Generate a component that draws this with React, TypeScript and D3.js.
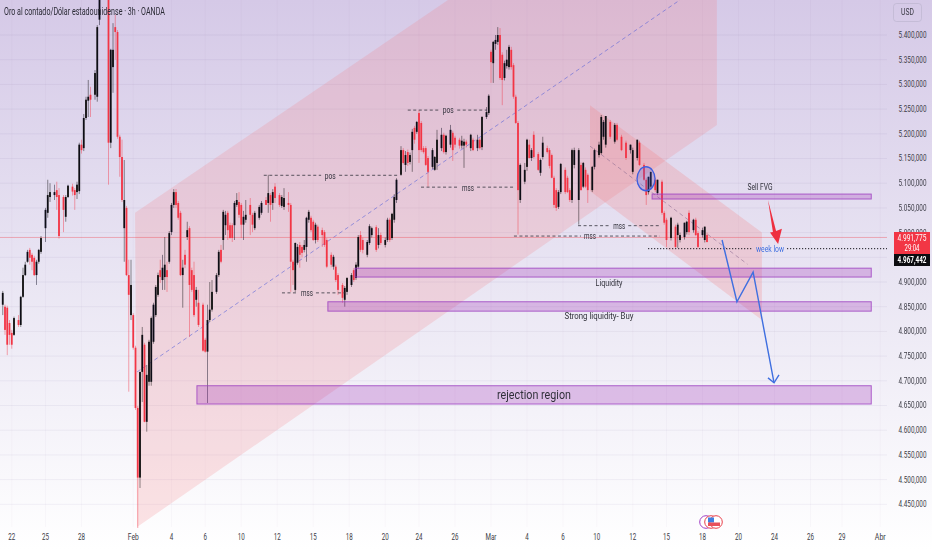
import React from 'react'
import { scaleLinear, line, formatLocale } from 'd3'

type Bar = [number, number, number, number, number] // slot, open, high, low, close
type Pt = [number, number] // slot, price

const W = 932
const H = 550
const PLOT_RIGHT = 887

const januaryBars: Bar[] = [
  [1,4854,4882,4833,4878],[2,4850,4854,4793,4803],[3,4848,4852,4752,4773],[4,4817,4823,4773,4793],
  [5,4797,4803,4765,4773],[6,4793,4830,4791,4827],[8,4823,4833,4809,4813],[9,4813,4872,4809,4870],
  [10,4870,4929,4868,4914],[11,4914,4941,4912,4935],[12,4941,4965,4939,4961],[13,4965,4969,4935,4949],
  [14,4955,4959,4924,4941],[15,4949,4953,4912,4914],[16,4914,4945,4894,4941],[17,4941,4967,4937,4965],
  [18,4961,4993,4957,4989],[20,5009,5050,4981,5046],[21,5040,5107,5030,5076],[22,5072,5100,5062,5082],
  [24,5076,5097,5066,5082],[25,5086,5103,5046,5072],[26,5076,5090,4988,4993],[28,5072,5076,5001,5046],
  [29,5032,5076,5022,5072],[30,5072,5097,5070,5095],[32,5093,5099,5075,5083],[33,5086,5090,5046,5076],
  [34,5082,5103,5068,5097],[35,5084,5182,5078,5178],[36,5178,5188,5160,5167],[37,5171,5240,5165,5232],
  [38,5232,5275,5228,5269],[39,5267,5309,5234,5275],[40,5279,5295,5234,5269],[42,5279,5329,5269,5323],
  [43,5275,5420,5265,5416],[44,5431,5520,5420,5490],[45,5490,5560,5480,5545],[46,5545,5570,5500,5520],
  [48,5520,5530,5097,5182],[49,5182,5372,5171,5370],[50,5335,5424,5283,5370],[51,5416,5441,5350,5406],
  [52,5406,5410,5190,5194],[53,5194,5198,5113,5153],[54,5153,5188,5062,5066],[55,5009,5147,4941,5066],
  [56,5050,5054,4912,4914],[57,4914,4945,4678,4874],[58,4833,4945,4823,4894],
]

const februaryBars: Bar[] = [
  [59,4833,4837,4763,4767],[60,4767,4771,4641,4645],[61,4645,4649,4402,4504],[62,4504,4718,4483,4718],
  [63,4718,4809,4657,4793],[64,4773,4777,4616,4617],[65,4617,4732,4597,4712],[66,4698,4783,4690,4779],
  [67,4698,4830,4690,4827],[68,4779,4858,4775,4854],[69,4833,4894,4829,4890],[70,4874,4919,4870,4914],
  [71,4924,4945,4898,4910],[72,4904,4955,4884,4929],[73,4910,4991,4884,4935],[74,4924,4941,4880,4910],
  [75,4941,5003,4937,4999],[76,5001,5060,4995,5056],[77,5056,5088,5050,5082],[78,5082,5088,5050,5056],
  [79,5060,5064,5026,5030],[80,5040,5044,4912,4914],[81,4914,4945,4848,4929],[82,4955,4965,4928,4935],
  [83,4991,5022,4985,5005],[84,5009,5013,4789,4894],[85,4924,4929,4880,4884],[86,4914,4941,4829,4833],
  [87,4864,4890,4850,4884],[88,4858,4884,4809,4813],[90,4854,4858,4759,4761],[91,4783,4787,4757,4759],
  [92,4759,4854,4655,4823],[93,4823,4900,4819,4844],[94,4844,4904,4840,4880],[96,4880,4918,4876,4914],
  [97,4914,4965,4910,4961],[98,4965,4975,4938,4941],[99,4985,5046,4965,5042],[100,5015,5044,4995,5036],
  [101,5040,5044,4985,5005],[102,5015,5020,4988,4989],[103,5015,5019,4981,4989],[104,5015,5064,4985,5060],
  [105,5056,5080,5052,5066],[106,5062,5082,5030,5036],[107,5056,5060,4989,5016],[108,5016,5044,4985,5032],
  [109,5026,5066,5020,5036],[111,5056,5070,4995,5036],[112,5036,5040,5001,5016],[113,5009,5044,5005,5040],
  [115,5030,5056,5026,5052],[116,5040,5064,5036,5060],[118,5066,5072,5056,5056],[119,5060,5117,5040,5080],
  [120,5076,5080,5022,5056],[121,5060,5088,5046,5082],[122,5093,5100,5060,5070],[124,5076,5080,5052,5056],
  [125,5054,5076,5050,5072],[126,5052,5090,5046,5070],[128,5060,5082,5042,5056],[129,5056,5060,4880,4941],
  [130,4941,4945,4894,4924],[131,4884,4980,4880,4979],[132,4939,4977,4935,4971],[133,4975,4981,4929,4955],
  [134,4971,4975,4950,4959],[135,4965,4985,4960,4975],[136,4971,5032,4941,5030],[137,5026,5046,5020,5042],
  [138,5030,5034,5001,5005],[139,5022,5026,4983,4985],[140,4985,5020,4978,5016],[141,5012,5016,4981,4985],
  [143,5005,5010,4971,4995],[144,5001,5005,4971,4975],[145,4985,4989,4928,4931],[147,4955,4960,4930,4935],
  [148,4931,4955,4925,4951],[149,4931,4935,4900,4904],[150,4914,4918,4874,4884],[152,4894,4898,4858,4868],
  [153,4864,4892,4850,4888],[154,4880,4910,4874,4908],[156,4894,4918,4890,4914],[157,4924,4928,4900,4904],
  [158,4908,4940,4904,4935],[159,4931,4995,4927,4991],[160,4995,5003,4961,4965],[161,4985,4990,4958,4965],
  [163,4955,4985,4950,4981],[164,4979,5017,4975,5013],[165,4995,5012,4990,5009],[167,5011,5015,4961,4965],
  [168,4975,5009,4968,4995],[169,4995,5000,4975,4979],[171,4975,4990,4970,4985],[172,4985,5030,4981,5026],
  [173,5026,5030,4981,4985],[174,4989,5040,4985,5038],[175,5026,5078,5020,5072],[176,5066,5110,5060,5107],
  [178,5117,5175,5115,5167],[179,5167,5171,5138,5141],[180,5137,5165,5123,5157],[181,5163,5168,5135,5141],
  [182,5143,5162,5138,5157],[183,5167,5210,5123,5204],[184,5212,5216,5180,5188],[185,5204,5226,5200,5224],
  [186,5242,5248,5141,5167],[187,5222,5226,5163,5167],[188,5171,5175,5160,5163],[189,5171,5175,5135,5137],
  [190,5151,5155,5093,5123],[192,5133,5171,5129,5167],[193,5127,5155,5125,5153],[194,5141,5208,5127,5188],
  [196,5171,5212,5165,5198],[197,5198,5202,5160,5163],[198,5163,5198,5158,5196],[200,5178,5218,5172,5208],
  [201,5202,5206,5145,5167],[202,5192,5196,5172,5178],[204,5188,5192,5170,5176],[205,5176,5196,5170,5186],
  [206,5176,5190,5131,5184],[207,5184,5188,5172,5178],[209,5171,5200,5165,5198],[210,5188,5192,5165,5167],
  [212,5171,5198,5165,5188],[213,5188,5192,5168,5171],[214,5173,5236,5167,5234],[216,5234,5254,5230,5244],
  [217,5242,5280,5238,5277],
]

const marchBars: Bar[] = [
  [218,5366,5370,5303,5345],[219,5343,5388,5303,5386],[220,5382,5400,5370,5390],[221,5386,5416,5380,5400],
  [222,5400,5414,5309,5313],[223,5360,5365,5258,5309],[224,5313,5348,5308,5343],[225,5337,5370,5332,5350],
  [226,5335,5380,5330,5376],[227,5370,5376,5330,5335],[228,5339,5343,5271,5275],[229,5275,5279,5220,5222],
  [230,5222,5226,4996,5086],[231,5066,5140,5060,5137],[233,5103,5141,5098,5127],[234,5133,5190,5125,5188],
  [235,5178,5188,5150,5151],[236,5151,5171,5145,5167],[237,5198,5205,5150,5153],[239,5159,5163,5125,5127],
  [240,5121,5150,5115,5147],[241,5153,5194,5148,5182],[243,5171,5176,5160,5163],[244,5167,5171,5130,5135],
  [245,5157,5160,5110,5111],[246,5111,5115,5050,5056],[247,5086,5090,5044,5050],[248,5052,5086,5048,5082],
  [249,5082,5141,5078,5139],[251,5127,5132,5078,5082],[252,5111,5115,5080,5082],[253,5086,5090,5062,5066],
  [254,5066,5170,5060,5167],[255,5137,5172,5130,5167],[257,5066,5171,5016,5167],[258,5137,5142,5085,5086],
  [259,5093,5143,5090,5141],[260,5127,5132,5090,5093],[261,5117,5120,5060,5086],[263,5086,5135,5082,5133],
  [264,5133,5170,5128,5167],[266,5157,5184,5152,5178],[267,5161,5238,5158,5234],[268,5194,5228,5188,5224],
  [269,5178,5236,5172,5236],[271,5224,5228,5190,5194],[273,5184,5222,5180,5218],[274,5218,5222,5185,5188],
  [276,5194,5198,5165,5167],[278,5182,5186,5147,5151],[280,5167,5178,5160,5178],[281,5123,5172,5118,5167],
  [283,5151,5188,5146,5188],[284,5182,5186,5135,5137],[286,5137,5141,5105,5107],[287,5107,5111,5056,5076],
  [288,5082,5113,5077,5113],[289,5093,5123,5088,5123],[291,5107,5111,5082,5086],[292,5080,5107,5076,5107],
  [294,5103,5107,5036,5040],[295,5040,5044,5016,5020],[296,5026,5030,4971,4985],[298,4989,5032,4984,5030],
  [300,5012,5016,4969,4971],[301,4995,5020,4969,5016],[302,4985,5000,4980,4995],[304,4991,5020,4986,5020],
  [305,5001,5024,4996,5022],[306,5040,5045,4995,5001],[308,5005,5028,5000,5026],[309,5026,5030,4993,4995],
  [310,4999,5003,4968,4971],[312,4995,5010,4990,5005],[313,4985,5012,4980,5012],[314,4995,5000,4980,4981],
]

const priceTicks = [5400,5350,5300,5250,5200,5150,5100,5050,5000,4950,4900,4850,4800,4750,4700,4650,4600,4550,4500,4450]
const hiddenPriceLabels = [4950] // sits behind the price tags
const timeLabels = ['22','25','28','Feb','4','6','10','12','15','18','20','24','26','Mar','4','6','10','12','15','18','20','24','26','29','Abr']
const timeSlots = [5,20,36,59,76,91,107,123,139,155,171,186,202,218,234,250,265,281,296,312,328,344,360,374,391]

const risingChannel: Pt[] = [[59.8,5040],[198.9,5471],[318.4,5471],[318.4,5218],[60.7,4404]]
const risingMid: Pt[] = [[60.7,4718],[302,5471]]
const fallingChannel: Pt[] = [[262,5258],[338.4,5000],[338.4,4823],[262,5084]]
const fallingMid: Pt[] = [[262,5175],[332,4936]]

const zoneNames = ['Sell FVG','Liquidity','Strong liquidity- Buy','rejection region']
const zoneStart = [289.6,157.6,145.5,87.3]
const zoneEnd = [387,387,387,387]
const zoneTop = [5078,4928,4860,4690]
const zoneBottom = [5068,4910,4841,4653]

// structure levels: label, price, from, to, where the label sits
const levelNames = ['pos','pos','mss','mss','mss','mss']
const levelPrice = [5116,5248,5092,4878,5014,4993]
const levelFrom = [117,181,186.9,125.1,256.7,228.2]
const levelTo = [177.1,216.2,228.2,153,293,293]
const levelLabelAt = [146.5,199,207.8,136.2,275,262]

const weekLow = 4967.442
const lastPrice = 4991.775
const weekLowFrom = 287.8
const weekLowTo = 394
const weekLowLabelAt = 342

const bluePath: Pt[] = [[320.7,4985],[327.3,4860],[334.5,4920],[343.8,4696]]
const blueHead: Pt[] = [[341.1,4706],[343.8,4696],[346,4712]]
const redArrow: Pt[] = [[341.1,5066],[344.7,5003],[347.3,5008],[345.6,4977],[342,5000],[343.3,5001]]
const circled: Pt = [286.9,5109]

const x = scaleLinear().domain([0, 100]).range([0.5, 225.5])
const y = scaleLinear().domain([5400, 4450]).range([35, 504.3])
const pen = line<Pt>().x(d => x(d[0])).y(d => y(d[1]))
const priceFmt = formatLocale({ decimal: ',', thousands: '.', grouping: [3], currency: ['', ''] }).format(',.3f')

const FONT = 'Roboto, "Liberation Sans", sans-serif'
const UP = '#0d0d12'
const DOWN = '#f23645'

// the reference text is squeezed sideways, so each label is scaled to its measured width
const Txt = ({ cx, cy, w, size = 9.5, fill = '#30303a', weight, anchor = 'middle', children }: any) => (
  <text
    ref={el => {
      if (el) el.setAttribute('transform', `translate(${cx},${cy}) scale(${w / el.getComputedTextLength()},1)`)
    }}
    textAnchor={anchor}
    dominantBaseline='central'
    fontFamily={FONT}
    fontSize={size}
    fontWeight={weight}
    fill={fill}
  >
    {children}
  </text>
)

const Candle = ({ d }: { d: Bar }) => {
  const [slot, o, h, l, c] = d
  const color = c >= o ? UP : DOWN
  const top = y(Math.max(o, c))
  const bot = y(Math.min(o, c))
  return (
    <g>
      <line x1={x(slot)} x2={x(slot)} y1={y(h)} y2={y(l)} stroke={color} strokeWidth={0.8} opacity={0.55} />
      <rect x={x(slot) - 0.9} y={top} width={1.8} height={Math.max(bot - top, 0.8)} fill={color} />
    </g>
  )
}

export default function App() {
  const bars = [...januaryBars, ...februaryBars, ...marchBars]
  return (
    <svg width={W} height={H} style={{ position: 'absolute', left: 0, top: 0 }}>
      <defs>
        <linearGradient id='bg' x1='0' y1='0' x2='0' y2='1'>
          <stop offset='0%' stopColor='#d5c9e7' />
          <stop offset='50%' stopColor='#e9e5f3' />
          <stop offset='100%' stopColor='#ffffff' />
        </linearGradient>
        <filter id='soft' filterUnits='userSpaceOnUse' x='0' y='0' width={W} height={H}>
          <feGaussianBlur stdDeviation='0.35' />
        </filter>
      </defs>
      <rect width={W} height={H} fill='url(#bg)' />

      {priceTicks.map(p => (
        <line key={p} x1={0} x2={PLOT_RIGHT} y1={y(p)} y2={y(p)} stroke='#6a5a90' strokeOpacity={0.07} />
      ))}
      {timeSlots.map((s, i) => (
        <line key={i} x1={x(s)} x2={x(s)} y1={0} y2={527} stroke='#6a5a90' strokeOpacity={0.035} />
      ))}

      <path d={pen(risingChannel) + 'Z'} fill='rgb(245,120,125)' fillOpacity={0.2} />
      <path d={pen(fallingChannel) + 'Z'} fill='rgb(248,115,115)' fillOpacity={0.22} />
      <path d={pen(risingMid)!} stroke='#5a63d8' strokeWidth={0.8} strokeDasharray='4 3' fill='none' opacity={0.75} />
      <path d={pen(fallingMid)!} stroke='#8a6a90' strokeWidth={0.8} strokeDasharray='4 3' fill='none' opacity={0.7} />

      <line x1={0} x2={PLOT_RIGHT} y1={y(lastPrice) + 0.8} y2={y(lastPrice) + 0.8} stroke={DOWN} strokeOpacity={0.35} />

      <g filter='url(#soft)'>
        {bars.map(d => <Candle key={d[0]} d={d} />)}
      </g>

      {zoneNames.map((name, i) => (
        <rect
          key={name}
          x={x(zoneStart[i])}
          y={y(zoneTop[i])}
          width={x(zoneEnd[i]) - x(zoneStart[i])}
          height={y(zoneBottom[i]) - y(zoneTop[i])}
          fill='rgb(156,39,176)'
          fillOpacity={0.26}
          stroke='#9c3fc0'
          strokeOpacity={0.8}
        />
      ))}

      {levelNames.map((name, i) => {
        const py = y(levelPrice[i])
        const mid = x(levelLabelAt[i])
        return (
          <g key={i}>
            <line x1={x(levelFrom[i])} x2={mid - 9} y1={py} y2={py} stroke='#33333d' strokeWidth={0.8} strokeDasharray='3 2.5' />
            <line x1={mid + 9} x2={x(levelTo[i])} y1={py} y2={py} stroke='#33333d' strokeWidth={0.8} strokeDasharray='3 2.5' />
            <Txt cx={mid} cy={py + 0.5} w={name === 'pos' ? 11 : 12} size={9}>{name}</Txt>
          </g>
        )
      })}

      <line x1={x(weekLowFrom)} x2={x(weekLowLabelAt) - 17} y1={y(weekLow)} y2={y(weekLow)} stroke='#15151c' strokeDasharray='1.2 1.8' />
      <line x1={x(weekLowLabelAt) + 17} x2={x(weekLowTo)} y1={y(weekLow)} y2={y(weekLow)} stroke='#15151c' strokeDasharray='1.2 1.8' />
      <Txt cx={x(weekLowLabelAt)} cy={y(weekLow)} w={28} size={9.5} fill='#3f6fe0'>week low</Txt>

      <Txt cx={760} cy={187} w={25} size={9.5}>{zoneNames[0]}</Txt>
      <Txt cx={609} cy={283} w={27} size={9.5}>{zoneNames[1]}</Txt>
      <Txt cx={599} cy={316} w={69} size={9.5}>{zoneNames[2]}</Txt>
      <Txt cx={534} cy={395} w={74} size={12.5}>{zoneNames[3]}</Txt>

      <ellipse cx={x(circled[0])} cy={y(circled[1])} rx={9} ry={12} fill='#4a5fe0' fillOpacity={0.25} stroke='#3f5fe0' strokeWidth={1.3} />
      <path d={pen(bluePath)!} fill='none' stroke='#3f6fe0' strokeWidth={1.4} />
      <path d={pen(blueHead)!} fill='none' stroke='#3f6fe0' strokeWidth={1.4} />
      <path d={pen(redArrow) + 'Z'} fill='#ee2f3f' />

      <Txt cx={4} cy={11} w={161} size={10.5} fill='#2a2a35' anchor='start'>Oro al contado/Dólar estadounidense · 3h · OANDA</Txt>

      {priceTicks.filter(p => !hiddenPriceLabels.includes(p)).map(p => (
        <Txt key={p} cx={912.5} cy={y(p)} w={28} size={9.5} fill='#3c3c46'>{priceFmt(p)}</Txt>
      ))}
      {timeLabels.map((t, i) => (
        <Txt key={i} cx={x(timeSlots[i])} cy={537} w={t.length === 3 ? 11 : t.length === 2 ? 7 : 3.5} size={9.5} fill='#3c3c46'>{t}</Txt>
      ))}

      <rect x={893.5} y={3.5} width={28} height={18} rx={3} fill='none' stroke='#b9b2cc' strokeOpacity={0.6} />
      <Txt cx={907.5} cy={12.5} w={13} size={8.5} fill='#3c3c46'>USD</Txt>

      <rect x={894} y={232} width={36} height={22} fill='#f23645' />
      <Txt cx={912} cy={238} w={29} size={9.5} fill='#ffffff'>{priceFmt(lastPrice)}</Txt>
      <Txt cx={912} cy={248} w={15} size={9.5} fill='#ffffff'>29:04</Txt>
      <rect x={894} y={254} width={36} height={12} fill='#0c0c10' />
      <Txt cx={912} cy={260} w={29} size={9.5} fill='#ffffff' weight={700}>{priceFmt(weekLow)}</Txt>

      <circle cx={706} cy={522} r={6.3} fill='#ffffff' stroke='#a13fc4' />
      <circle cx={711} cy={522} r={6.3} fill='#ffffff' stroke='#e8404a' />
      <circle cx={716} cy={522} r={6.3} fill='#ffffff' stroke='#e8404a' />
      <rect x={708} y={517.5} width={6} height={5} fill='#3f7fe0' />
      <rect x={708} y={522.5} width={12} height={3.5} fill='#e8505a' />
    </svg>
  )
}
